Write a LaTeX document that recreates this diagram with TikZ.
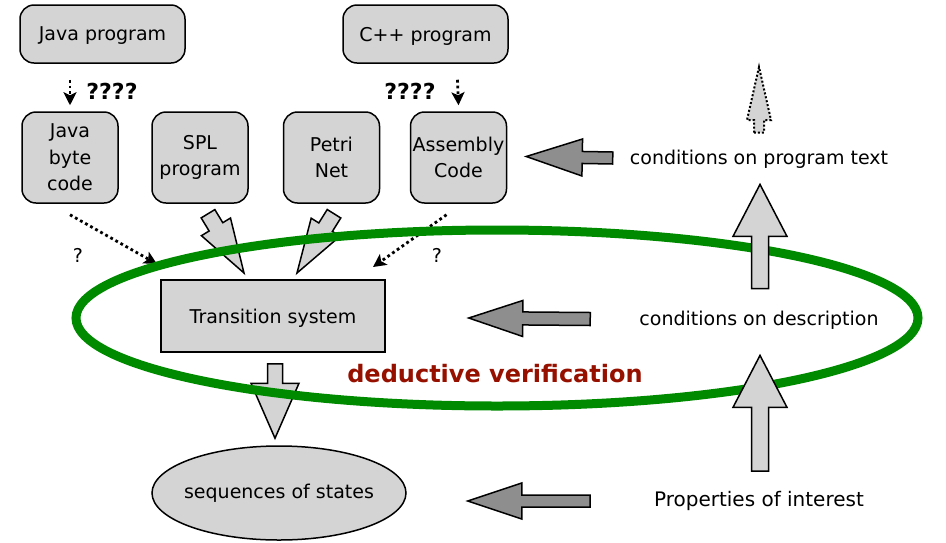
\documentclass[tikz,border=0pt]{standalone}
\usepackage{fontspec}
\setmainfont{DejaVu Sans}
\usetikzlibrary{arrows.meta,calc,shapes.geometric}

\definecolor{boxgray}{RGB}{212,212,212}
\definecolor{darkarrow}{RGB}{142,142,142}
\definecolor{loopgreen}{RGB}{0,138,0}
\definecolor{dvred}{RGB}{150,16,0}

\newcommand\lbl{\fontsize{19}{26.5}\selectfont}

% block arrow: #1 style, #2 tail, #3 tip, #4 half shaft, #5 half head, #6 head length
\newcommand\fatarrow[6]{%
  \coordinate (fa-s) at (#2);
  \coordinate (fa-e) at (#3);
  \coordinate (fa-b) at ($(fa-e)!#6!(fa-s)$);
  \draw[#1] ($(fa-s)!#4!90:(fa-e)$) -- ($(fa-b)!#4!90:(fa-e)$)
    -- ($(fa-b)!#5!90:(fa-e)$) -- (fa-e) -- ($(fa-b)!#5!-90:(fa-e)$)
    -- ($(fa-b)!#4!-90:(fa-e)$) -- ($(fa-s)!#4!-90:(fa-e)$) -- cycle;
}

\tikzset{
  rbox/.style={draw, line width=1.5pt, fill=boxgray, rounded corners=14pt,
    align=center, font=\lbl, inner sep=2pt},
  plainbox/.style={draw, line width=1.5pt, fill=boxgray, font=\lbl},
  lbltext/.style={font=\lbl, inner sep=0pt},
  qmark/.style={font=\fontsize{22}{26}\selectfont\bfseries, inner sep=0pt},
  dotarrow/.style={line width=2.8pt, dash pattern=on 2.8pt off 3pt,
    -{Stealth[length=13pt,width=13pt,inset=3pt]}},
  lightarrow/.style={draw, line width=1.5pt, fill=boxgray, line join=miter},
  darkblock/.style={draw, line width=1.5pt, fill=darkarrow, line join=miter},
  dottedblock/.style={draw, line width=2pt, dash pattern=on 2pt off 2pt, fill=boxgray},
}

\begin{document}
\begin{tikzpicture}[x=1pt, y=-1pt]
\useasboundingbox (0,0) rectangle (946,542);

% source programs
\node[rbox, text depth=0pt, minimum width=165pt, minimum height=58pt] (jprog) at (102.5,34) {Java program};
\node[rbox, text depth=0pt, minimum width=165pt, minimum height=58pt] (cprog) at (425.5,34) {C++ program};

% intermediate descriptions
\node[rbox, minimum width=96pt, minimum height=91pt] (jbc) at (70,157.5) {Java\\byte\\code};
\node[rbox, minimum width=96pt, minimum height=91pt] (spl) at (200,157.5) {SPL\\program};
\node[rbox, minimum width=96pt, minimum height=91pt] (petri) at (331.5,157.5) {Petri\\Net};
\node[rbox, minimum width=96pt, minimum height=91pt] (asm) at (458.5,157.5) {Assembly\\Code};

% transition system and its semantics
\node[plainbox, text depth=0pt, minimum width=224pt, minimum height=72pt] (ts) at (273,316) {Transition system};
\node[plainbox, ellipse, inner sep=0pt, minimum width=254pt, minimum height=94pt] (seq) at (279,493)
  {\makebox[0pt]{sequences of states}};

% translations
\draw[dotarrow] ($(jprog.south)+(-32.5,16)$) -- ($(jbc.north)+(0,-6)$);
\node[qmark] (q1) at (112,91) {????};
\draw[dotarrow] ($(cprog.south)+(32,16)$) -- ($(asm.north)+(0,-6)$);
\node[qmark] (q2) at (410,91) {????};

\coordinate (jbcin) at (157,264);
\coordinate (asmin) at (373,267);
\draw[dotarrow] ($(jbc.south)+(0,11)$) -- (jbcin);
\node[lbltext] (q3) at (78,255) {?};
\draw[dotarrow] ($(asm.south)+(-12,11)$) -- (asmin);
\node[lbltext] (q4) at (437,255) {?};

\fatarrow{lightarrow}{$(spl.south)+(8,10)$}{244,273}{8pt}{17pt}{54pt}
\fatarrow{lightarrow}{$(petri.south)+(2.5,10)$}{297,273}{8pt}{17pt}{54pt}
\fatarrow{lightarrow}{$(ts.south)+(2,11)$}{$(seq.north)+(-4,-7)$}{7.5pt}{24pt}{55pt}

% verification loop
\draw[loopgreen, line width=9pt] (497,318) ellipse [x radius=421, y radius=88];
\node[font=\fontsize{24}{28}\selectfont\bfseries, text=dvred, inner sep=0pt] (dv) at (495,374) {deductive verification};

% conditions and properties
\node[lbltext] (cpt) at (759,159) {conditions on program text};
\node[lbltext] (cd) at (759,320) {conditions on description};
\node[lbltext, font=\fontsize{20}{26}\selectfont] (poi) at (759,501) {Properties of interest};

\fatarrow{lightarrow}{$(poi.north)+(1,-20)$}{$(cd.south)+(1,26)$}{8.5pt}{27pt}{52pt}
\fatarrow{lightarrow}{$(cd.north)+(1,-22)$}{$(cpt.south)+(1,16)$}{8.5pt}{27pt}{52pt}
\fatarrow{dottedblock}{$(cpt.north)+(0,-17)$}{759,67}{5pt}{12pt}{53pt}

\fatarrow{darkblock}{$(cpt.west)+(-17,-1)$}{$(asm.east)+(19,-1)$}{6pt}{18.5pt}{56pt}
\fatarrow{darkblock}{$(cd.west)+(-49,-1)$}{$(ts.east)+(83,2)$}{6.5pt}{18pt}{54pt}
\coordinate (seqin) at ($(seq.east)+(61,8)$);
\fatarrow{darkblock}{590,501}{seqin}{6pt}{18pt}{54pt}
\end{tikzpicture}
\end{document}
